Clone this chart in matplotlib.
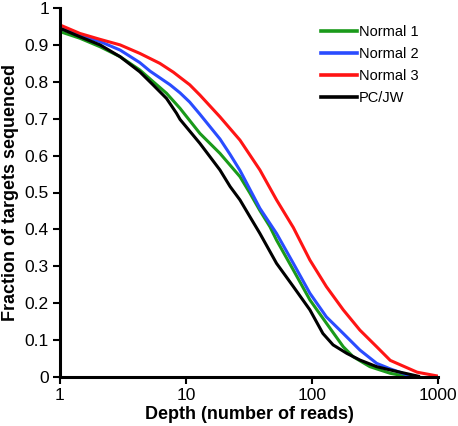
import matplotlib
matplotlib.use("Agg")
import matplotlib.pyplot as plt

plt.rcParams['font.family'] = ['Liberation Sans', 'DejaVu Sans']

labels = ["Normal 1", "Normal 2", "Normal 3", "PC/JW"]
colors = ["#1a9a1a", "#2a4cff", "#ff1414", "#000000"]

n1_x = [1, 1.44, 2.08, 3.0, 4.3, 5.5, 7.0, 8.97, 10.7, 12.9, 18.6, 26.8, 32.2, 38.6, 46.4, 52.3, 71.1,
        96.2, 130, 177, 212, 288, 418, 560]
n1_y = [0.936, 0.918, 0.895, 0.868, 0.832, 0.8, 0.769, 0.728, 0.695, 0.66, 0.606, 0.543, 0.498, 0.451,
        0.407, 0.371, 0.29, 0.209, 0.146, 0.082, 0.055, 0.028, 0.01, 0.002]

n2_x = [1, 1.44, 2.08, 3.0, 4.3, 5.18, 7.47, 8.97, 10.7, 12.9, 18.6, 22.4, 26.8, 38.6, 52.3, 71.1,
        96.2, 130, 177, 240, 326, 418, 600]
n2_y = [0.945, 0.927, 0.909, 0.886, 0.852, 0.829, 0.792, 0.77, 0.745, 0.712, 0.645, 0.603, 0.56, 0.457,
        0.389, 0.308, 0.227, 0.163, 0.118, 0.073, 0.037, 0.022, 0.003]

n3_x = [1, 1.44, 2.08, 3.0, 4.3, 6.2, 7.94, 8.97, 10.7, 12.9, 18.6, 26.8, 38.6, 52.3, 71.1,
        96.2, 130, 177, 240, 326, 418, 683, 980]
n3_y = [0.954, 0.931, 0.915, 0.9, 0.877, 0.85, 0.826, 0.812, 0.792, 0.764, 0.705, 0.642, 0.561, 0.48,
        0.405, 0.317, 0.245, 0.182, 0.127, 0.082, 0.045, 0.013, 0.003]

pc_x = [1, 1.44, 2.08, 3.0, 4.3, 5.5, 7.0, 8.4, 8.97, 12.9, 18.6, 22.4, 26.8, 32.2, 38.6, 52.3, 71.1,
        96.2, 122, 147, 189, 240, 326, 418, 700]
pc_y = [0.945, 0.922, 0.9, 0.868, 0.827, 0.791, 0.755, 0.715, 0.698, 0.633, 0.561, 0.516, 0.48, 0.434,
        0.389, 0.308, 0.245, 0.182, 0.118, 0.087, 0.064, 0.046, 0.028, 0.019, 0.002]

series = [(n1_x, n1_y), (n2_x, n2_y), (n3_x, n3_y), (pc_x, pc_y)]

x_ticks = [1, 10, 100, 1000]
x_tick_labels = ["1", "10", "100", "1000"]
y_ticks = [0, 0.1, 0.2, 0.3, 0.4, 0.5, 0.6, 0.7, 0.8, 0.9, 1]
y_tick_labels = ["0", "0.1", "0.2", "0.3", "0.4", "0.5", "0.6", "0.7", "0.8", "0.9", "1"]

fig = plt.figure(figsize=(4.58, 4.26), dpi=100)
ax = fig.add_axes([60/458, 49/426, 378/458, 369/426])

for (xs, ys), c, lab in zip(series, colors, labels):
    ax.plot(xs, ys, color=c, lw=2.2, label=lab, solid_joinstyle='round')

ax.set_xscale('log')
ax.set_xlim(1, 1000)
ax.set_ylim(0, 1)
ax.set_xticks(x_ticks)
ax.set_xticklabels(x_tick_labels)
ax.minorticks_off()
ax.set_yticks(y_ticks)
ax.set_yticklabels(y_tick_labels)
ax.tick_params(axis='both', direction='out', length=5, width=1.5, labelsize=12.5, pad=3)

for s in ['top', 'right']:
    ax.spines[s].set_visible(False)
for s in ['left', 'bottom']:
    ax.spines[s].set_linewidth(2.2)

ax.set_xlabel("Depth (number of reads)", fontsize=13, fontweight='bold', labelpad=2)
ax.set_ylabel("Fraction of targets sequenced", fontsize=13, fontweight='bold', labelpad=4)

leg = ax.legend(loc='upper left', bbox_to_anchor=(0.69, 0.955), frameon=False,
                fontsize=10.5, handlelength=2.5, handletextpad=0.1,
                borderpad=0, borderaxespad=0, labelspacing=0.55)
for l in leg.get_lines():
    l.set_linewidth(2.6)

fig.savefig("out.png", dpi=100)
